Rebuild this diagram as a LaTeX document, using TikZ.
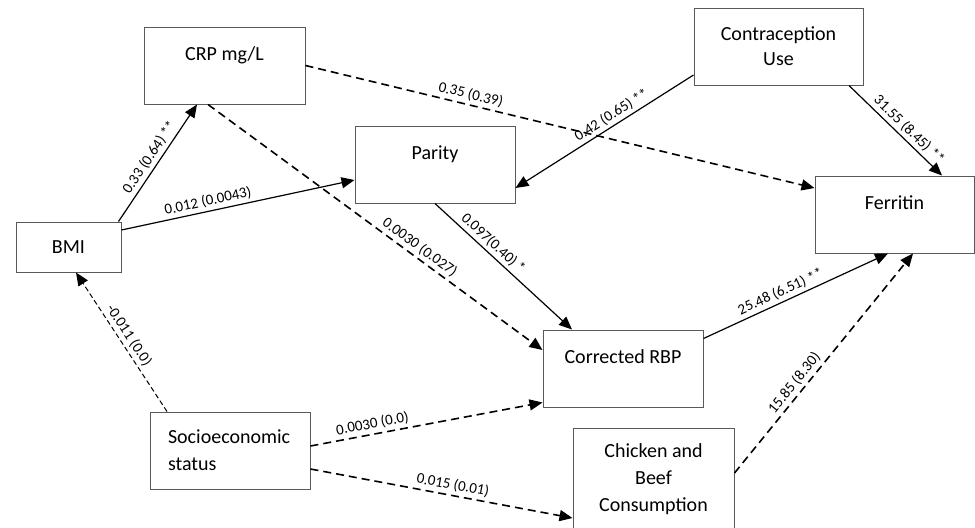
\documentclass[tikz,border=0pt]{standalone}
\usepackage{fontspec}
\setmainfont{Carlito}
\usetikzlibrary{arrows.meta}
\tikzset{
  var/.style={draw=black!65, line width=0.5pt, minimum width=80pt, minimum height=38.5pt,
    inner sep=0pt, align=center, font=\fontsize{10pt}{12.5pt}\selectfont},
  uptext/.style={text height=7pt, text depth=12pt},
  coef/.style={font=\fontsize{7.5pt}{8pt}\selectfont, sloped, above, inner sep=1.5pt},
  sig/.style={line width=0.6pt, -{Triangle[length=6.5pt,width=5.5pt]}},
  nsig/.style={line width=0.8pt, dash pattern=on 4pt off 2.5pt, -{Triangle[length=6.5pt,width=5.5pt]}},
  weak/.style={line width=0.5pt, dash pattern=on 2.5pt off 1.5pt, -{Triangle[length=6.5pt,width=5.5pt]}}
}
\newcommand{\pathCoef}[6]{
  \draw[#1] (#2) -- node[coef, pos=#4] (#5) {#6} (#3);
}

\begin{document}
\begin{tikzpicture}[x=0.5pt, y=-0.5pt]
  \useasboundingbox (0,0) rectangle (975,527);

  \node[var, uptext, minimum width=80.5pt] (crp) at (224.5,65.5) {CRP mg/L};
  \node[var, uptext] (parity) at (435,164.5) {Parity};
  \node[var, minimum width=84.5pt] (contra) at (778.5,46.5) {Contraception\\Use};
  \node[var, uptext, minimum width=79.5pt] (ferritin) at (894.5,214.5) {Ferritin};
  \node[var, minimum width=52.5pt, minimum height=25pt] (bmi) at (68.5,247) {BMI};
  \node[var, text width=62pt, inner xsep=9pt, align=left,
    font=\fontsize{10pt}{13.5pt}\selectfont] (ses) at (230,450.5) {Socioeconomic\\status};
  \node[var, uptext] (rbp) at (623,368.5) {Corrected RBP};
  \node[var, minimum width=80.5pt, minimum height=51pt,
    font=\fontsize{10pt}{13.5pt}\selectfont] (chicken) at (653.5,479) {Chicken and\\Beef\\Consumption};

  \pathCoef{sig}{[xshift=-1.5pt]bmi.north east}{[xshift=-13.75pt]crp.south}{0.5}{cbmicrp}{0.33 (0.64) **}
  \pathCoef{sig}{[yshift=8.5pt]bmi.east}{[yshift=-7.75pt]parity.west}{0.38}{cbmipar}{0.012 (0.0043)}
  \pathCoef{nsig}{crp.east}{[yshift=13.25pt]ferritin.west}{0.32}{ccrpfer}{0.35 (0.39)}
  \pathCoef{nsig}{[xshift=-8.25pt]crp.south}{[yshift=9.25pt]rbp.west}{0.615}{ccrprbp}{0.0030 (0.027)}
  \pathCoef{sig}{[yshift=-14.25pt]contra.west}{[yshift=-11.75pt]parity.east}{0.43}{cconpar}{0.42 (0.65) **}
  \pathCoef{sig}{[xshift=35.25pt]contra.south}{[xshift=23.75pt]ferritin.north}{0.57}{cconfer}{31.55 (8.45) **}
  \pathCoef{sig}{parity.south}{[xshift=-25.5pt]rbp.north}{0.375}{cparrbp}{0.097(0.40) *}
  \pathCoef{sig}{[yshift=-4.5pt]rbp.north east}{[xshift=-3.25pt]ferritin.south}{0.44}{crbpfer}{25.48 (6.51) **}
  \pathCoef{nsig}{[yshift=3pt]chicken.east}{[xshift=9.25pt]ferritin.south}{0.38}{cchifer}{15.85 (8.30)}
  \pathCoef{weak}{[xshift=-31.5pt]ses.north}{[xshift=3.75pt]bmi.south}{0.51}{csesbmi}{-0.011 (0.0)}
  \pathCoef{nsig}{[yshift=2.25pt]ses.east}{[yshift=2.5pt]rbp.south west}{0.275}{csesrbp}{0.0030 (0.0)}
  \pathCoef{nsig}{[yshift=-9.25pt]ses.east}{[yshift=-19.5pt]chicken.west}{0.536}{csesch}{0.015 (0.01)}
\end{tikzpicture}
\end{document}
